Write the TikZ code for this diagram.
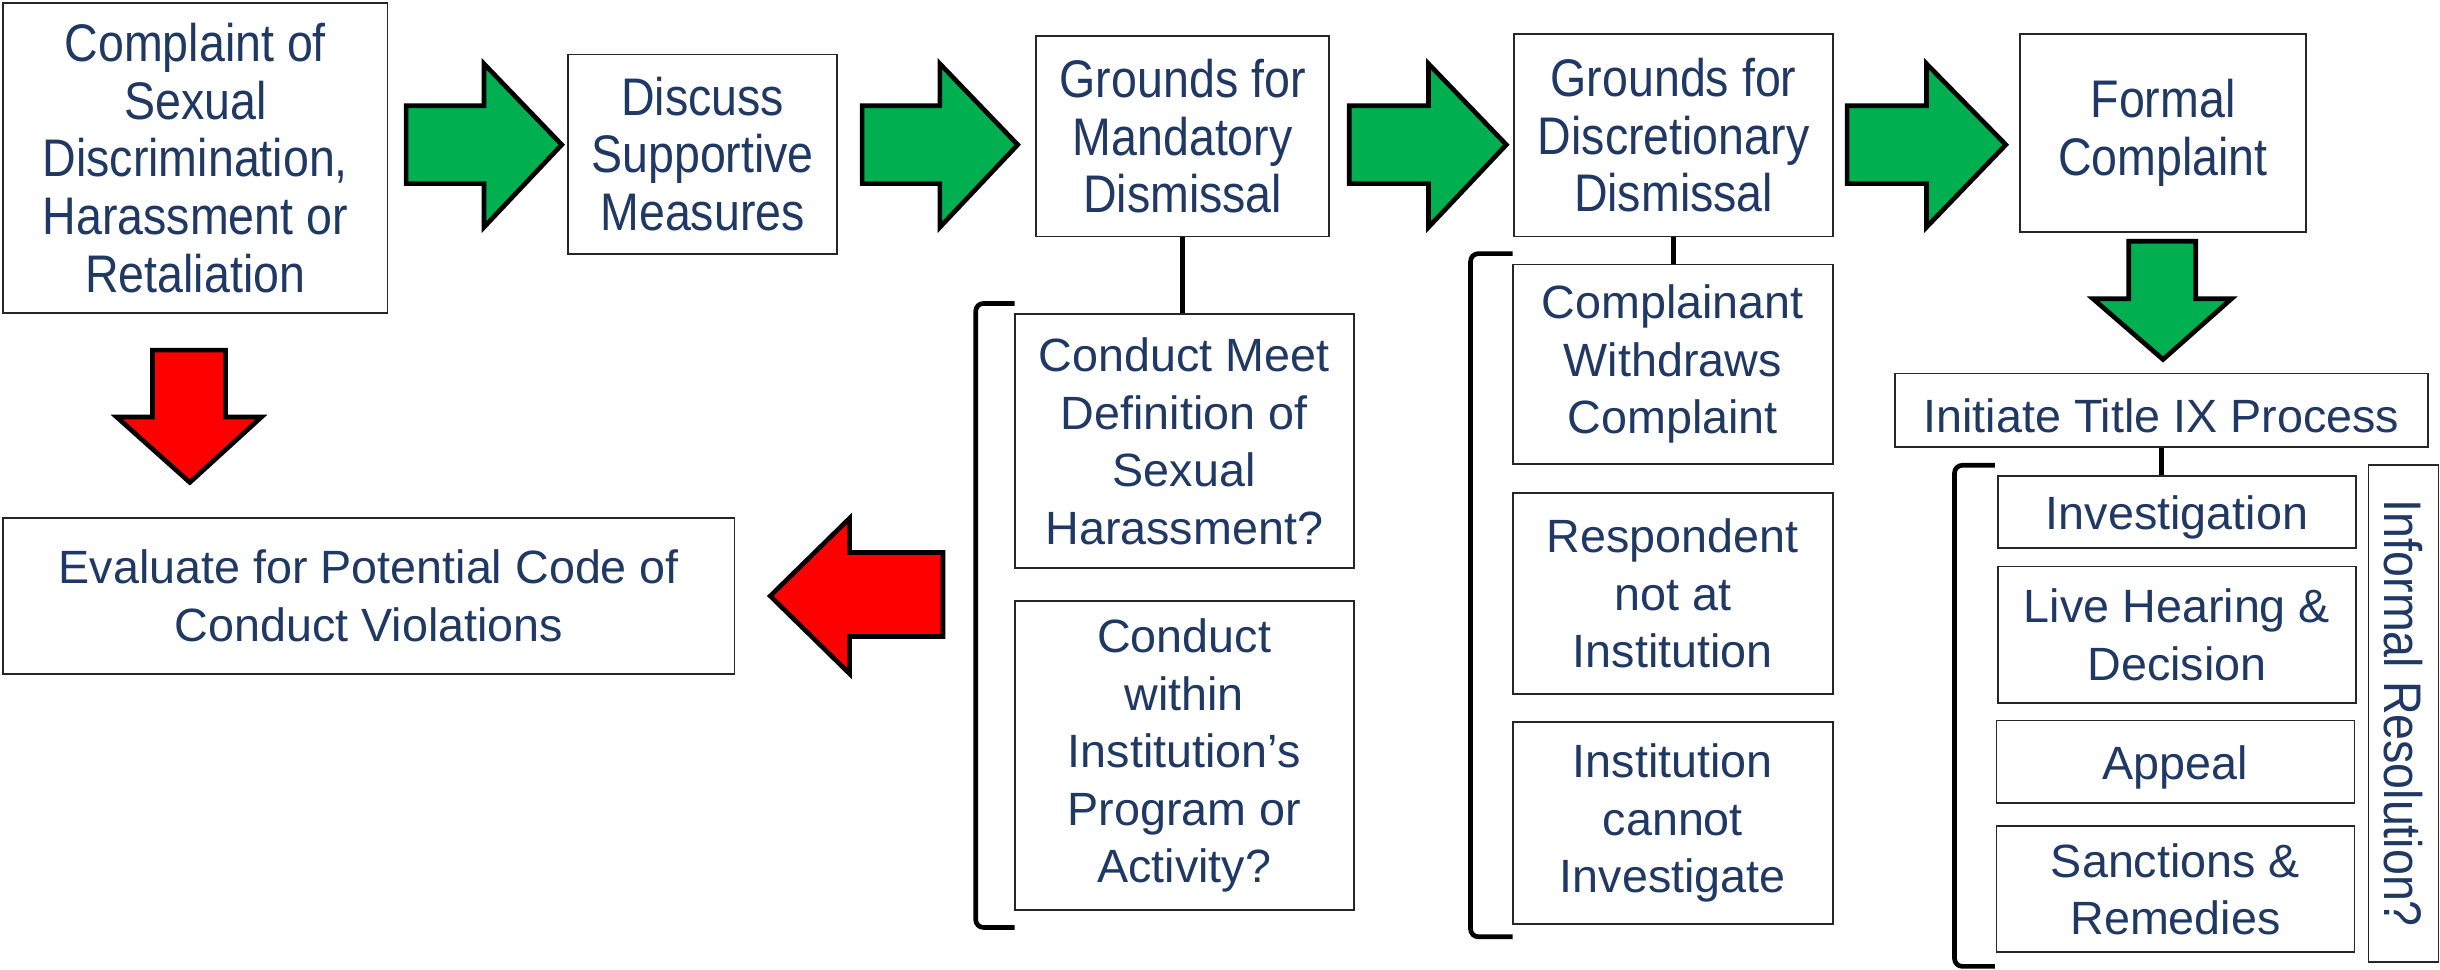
\documentclass[tikz,border=0pt]{standalone}
\usepackage{fontspec}
\setmainfont{Liberation Sans}
\newfontfamily\tallfont[FakeStretch=0.88]{Liberation Sans}
\definecolor{navy}{RGB}{31,56,100}
\definecolor{grn}{RGB}{0,176,80}
\definecolor{rd}{RGB}{255,0,0}
\newcommand{\dn}[1]{\raisebox{-3.5pt}[\height][\depth]{#1}}
\begin{document}
\begin{tikzpicture}[x=1pt,y=-1pt,
  box/.style={draw=black!85, line width=1.2pt, fill=white, inner sep=0pt, align=center, text=navy, font=\fontsize{30}{37}\selectfont},
  topbox/.style={box, font=\tallfont\fontsize{34}{37}\selectfont},
  garrow/.style={draw=black, line width=3pt, fill=grn, line join=miter},
  rarrow/.style={draw=black, line width=3pt, fill=rd, line join=miter},
  brk/.style={draw=black, line width=3pt, rounded corners=5pt},
  conn/.style={draw=black, line width=3pt}]
\useasboundingbox (0,0) rectangle (1568,623.3);
\fill[white] (0,0) rectangle (1568,623.3);

% top row
\node[topbox, minimum width=247pt, minimum height=199pt] (b1) at (125.5,101.5) {Complaint of\\Sexual\\Discrimination,\\Harassment or\\Retaliation};
\node[topbox, minimum width=173pt, minimum height=128pt] (b2) at (451.5,99) {Discuss\\Supportive\\Measures};
\node[topbox, minimum width=188pt, minimum height=129pt] (b3) at (760,87.5) {Grounds for\\Mandatory\\Dismissal};
\node[topbox, minimum width=205pt, minimum height=130pt] (b4) at (1075.5,87) {Grounds for\\Discretionary\\Dismissal};
\node[topbox, minimum width=184pt, minimum height=127pt] (b5) at (1390,85.5) {Formal\\Complaint};

% green right arrows
\foreach \t/\b/\p in {261/311/361, 554/604/654, 867/918/968, 1187/1238/1289}{
  \draw[garrow] (\t,68) -- (\b,68) -- (\b,41) -- (\p,93) -- (\b,146) -- (\b,118) -- (\t,118) -- cycle;
}

% mandatory column
\node[box, minimum width=218pt, minimum height=163pt] (c1) at (761,283.5) {Conduct Meet\\Definition of\\Sexual\\Harassment?};
\node[box, minimum width=218pt, minimum height=199pt] (c2) at (761,485.5) {Conduct\\within\\Institution’s\\Program or\\Activity?};
\draw[conn] (b3.south) -- (b3.south |- c1.north);
\draw[brk] (652,195) -- (627,195) -- (627,596) -- (652,596);

% discretionary column
\node[box, minimum width=206pt, minimum height=128pt] (d1) at (1075,234) {Complainant\\Withdraws\\Complaint};
\node[box, minimum width=206pt, minimum height=129pt] (d2) at (1075,381.5) {Respondent\\not at\\Institution};
\node[box, minimum width=206pt, minimum height=130pt] (d3) at (1075,529) {Institution\\cannot\\Investigate};
\draw[conn] (b4.south) -- (b4.south |- d1.north);
\draw[brk] (972,163) -- (945,163) -- (945,602) -- (972,602);

% formal column
\draw[garrow] (1368,155) -- (1411,155) -- (1411,192) -- (1434,192) -- (1390,231) -- (1345,192) -- (1368,192) -- cycle;
\node[box, minimum width=342pt, minimum height=47pt] (init) at (1389,263.5) {\dn{Initiate Title IX Process}};
\node[box, minimum width=230pt, minimum height=46pt] (e1) at (1399,329) {\dn{Investigation}};
\node[box, minimum width=230pt, minimum height=88pt] (e2) at (1399,408) {Live Hearing \&\\Decision};
\node[box, minimum width=230pt, minimum height=53pt] (e3) at (1398,489.5) {\dn{Appeal}};
\node[box, minimum width=230pt, minimum height=81pt] (e4) at (1398,571.5) {Sanctions \&\\Remedies};
\node[box, minimum width=45pt, minimum height=319pt] (inf) at (1544.5,458.5) {};
\node[text=navy, font=\tallfont\fontsize{34}{37}\selectfont, rotate=-90, inner sep=0pt] (inft) at (inf.center) {Informal Resolution?};
\draw[conn] (init.south) -- (init.south |- e1.north);
\draw[brk] (1282,299) -- (1256,299) -- (1256,621) -- (1282,621);

% left side
\node[box, minimum width=470pt, minimum height=100pt] (ev) at (237,383) {Evaluate for Potential Code of\\Conduct Violations};
\draw[rarrow] (98,225) -- (145,225) -- (145,268) -- (168,268) -- (122,310) -- (75,268) -- (98,268) -- cycle;
\draw[rarrow] (606,355) -- (546,355) -- (546,333) -- (495,383) -- (546,433) -- (546,409) -- (606,409) -- cycle;
\end{tikzpicture}
\end{document}
